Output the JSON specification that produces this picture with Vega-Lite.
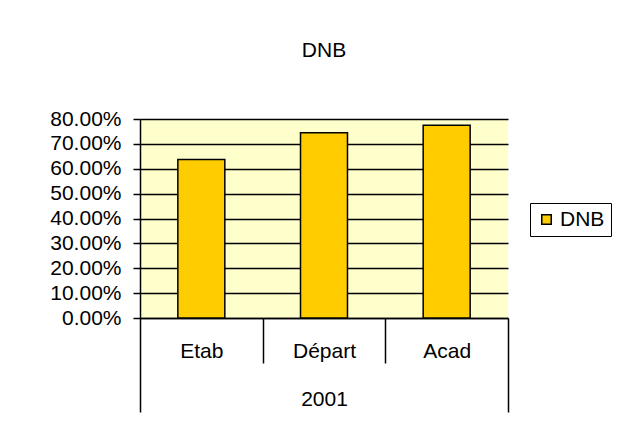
{
  "$schema": "https://vega.github.io/schema/vega-lite/v6.json",
  "autosize": {"type": "none"},
  "width": 368,
  "height": 199,
  "padding": {"left": 140, "top": 119, "right": 114, "bottom": 121},
  "background": "white",
  "title": {
    "text": "DNB",
    "anchor": "middle",
    "font": "Liberation Sans",
    "fontSize": 21,
    "fontWeight": "normal",
    "color": "black",
    "offset": 47
  },
  "data": {
    "values": [
      {"cat": "Etab", "year": "2001", "series": "DNB", "value": 0.637},
      {"cat": "Départ", "year": "2001", "series": "DNB", "value": 0.745},
      {"cat": "Acad", "year": "2001", "series": "DNB", "value": 0.775}
    ]
  },
  "mark": {"type": "bar", "stroke": "black", "strokeWidth": 1.5, "width": {"band": 0.383}},
  "encoding": {
    "x": {
      "field": "cat",
      "type": "nominal",
      "sort": null,
      "scale": {"paddingInner": 0, "paddingOuter": 0},
      "axis": {
        "title": "2001",
        "titleFont": "Liberation Sans",
        "titleFontSize": 21,
        "titleFontWeight": "normal",
        "titleColor": "black",
        "titleY": 70,
        "titleBaseline": "top",
        "labelAngle": 0,
        "labelFont": "Liberation Sans",
        "labelFontSize": 21,
        "labelColor": "black",
        "labelBaseline": "top",
        "domainColor": "black",
        "domainWidth": 1.5,
        "tickColor": "black",
        "tickWidth": 1.5,
        "tickBand": "extent",
        "tickSize": {"condition": {"test": "datum.value === 'Acad' || datum.index < 0", "value": 94}, "value": 45},
        "labelPadding": {"condition": {"test": "datum.value === 'Acad'", "value": -72}, "value": -23}
      }
    },
    "y": {
      "field": "value",
      "type": "quantitative",
      "scale": {"domain": [0, 0.8], "nice": false},
      "axis": {
        "title": null,
        "format": ".2%",
        "values": [0, 0.1, 0.2, 0.3, 0.4, 0.5, 0.6, 0.7, 0.8],
        "labelFont": "Liberation Sans",
        "labelFontSize": 21,
        "labelColor": "black",
        "labelPadding": 12,
        "domainColor": "black",
        "domainWidth": 1.5,
        "tickColor": "black",
        "tickWidth": 1.5,
        "tickSize": 7,
        "grid": true,
        "gridColor": "black",
        "gridWidth": 1.5
      }
    },
    "fill": {
      "field": "series",
      "type": "nominal",
      "scale": {"range": ["#FFCC00"]},
      "legend": {
        "title": null,
        "orient": "none",
        "legendX": 390,
        "legendY": 84,
        "strokeColor": "black",
        "fillColor": "white",
        "padding": 6,
        "symbolType": "square",
        "symbolSize": 90,
        "symbolStrokeColor": "black",
        "symbolStrokeWidth": 1.5,
        "labelFont": "Liberation Sans",
        "labelFontSize": 21,
        "labelColor": "black",
        "labelOffset": 3
      }
    }
  },
  "config": {
    "view": {"fill": "#FFFFCC", "stroke": null}
  }
}
